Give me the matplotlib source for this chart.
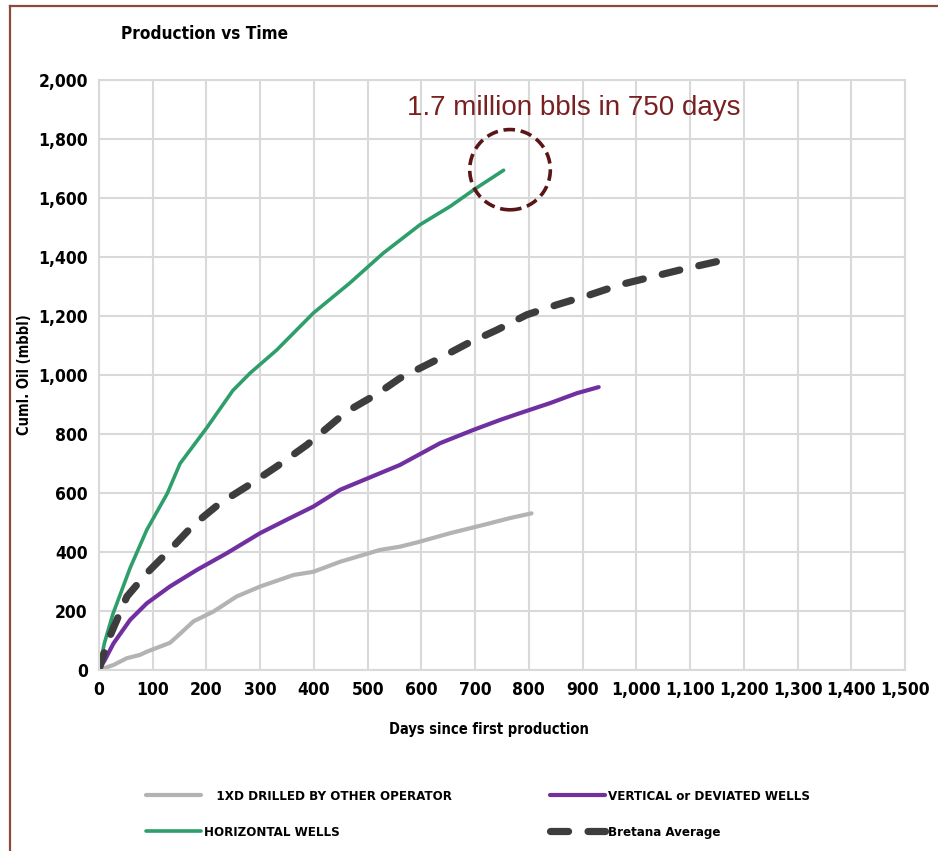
import matplotlib
matplotlib.use('Agg')
import matplotlib.pyplot as plt
from matplotlib.lines import Line2D
from matplotlib.patches import Ellipse
from matplotlib.ticker import FuncFormatter, MultipleLocator

plt.rcParams['font.family'] = ['DejaVu Sans']
plt.rcParams['font.stretch'] = 'condensed'

# Cumulative oil (mbbl) against days on production
days_1xd = [0, 27, 52, 76, 89, 132, 145, 176, 213, 256, 300, 362, 399, 449, 523, 560, 591, 654, 716, 765, 805]
oil_1xd = [0, 17, 40, 51, 62, 92, 113, 165, 198, 249, 283, 322, 333, 367, 407, 418, 432, 464, 492, 515, 531]

days_vert = [0, 11, 27, 58, 89, 132, 182, 238, 300, 349, 399, 449, 523, 560, 635, 697, 747, 784, 840, 889, 930]
oil_vert = [0, 34, 90, 170, 226, 283, 339, 396, 464, 509, 554, 611, 667, 695, 769, 814, 848, 871, 905, 938, 959]

days_horiz = [0, 10, 26, 58, 89, 127, 151, 201, 249, 281, 331, 399, 467, 529, 598, 654, 700, 753]
oil_horiz = [0, 90, 190, 346, 475, 598, 700, 822, 947, 1006, 1085, 1210, 1312, 1413, 1510, 1572, 1631, 1694]

days_avg = [0, 5, 20, 52, 89, 132, 176, 225, 275, 331, 387, 461, 517, 560, 629, 685, 741, 796, 852, 914, 970, 1032, 1088, 1166]
oil_avg = [0, 34, 113, 249, 328, 407, 492, 565, 622, 690, 763, 876, 935, 989, 1052, 1106, 1153, 1204, 1238, 1272, 1306, 1334, 1359, 1391]

callout_day = 765
callout_oil = 1696
callout_text = '1.7 million bbls in 750 days'

fig = plt.figure(figsize=(9.38, 8.51), dpi=100)
ax = fig.add_axes([0.1055, 0.2127, 0.8593, 0.6933])

ax.plot(days_1xd, oil_1xd, color='#B3B3B3', lw=3.0, solid_capstyle='round',
        label='   1XD DRILLED BY OTHER OPERATOR')
ax.plot(days_horiz, oil_horiz, color='#2E9E6B', lw=2.6, solid_capstyle='round',
        label='HORIZONTAL WELLS')
ax.plot(days_vert, oil_vert, color='#7030A0', lw=3.0, solid_capstyle='round',
        label='VERTICAL or DEVIATED WELLS')
ax.plot(days_avg, oil_avg, color='#3D3D3D', lw=5.2, dashes=(2.5, 2.7),
        dash_capstyle='round', label='Bretana Average')

# dashed ring around the end of the horizontal-well curve
ring = Ellipse((callout_day, callout_oil), width=150, height=272, fill=False,
               edgecolor='#5A1616', lw=2.6, linestyle=(0, (3.2, 1.6)), zorder=5)
ax.add_patch(ring)
ax.text(884, 1906, callout_text, color='#7A2020', fontsize=20, ha='center', va='center',
        family=['Liberation Sans', 'DejaVu Sans'], stretch='normal')

ax.set_xlim(0, 1500)
ax.set_ylim(0, 2000)
ax.xaxis.set_major_locator(MultipleLocator(100))
ax.yaxis.set_major_locator(MultipleLocator(200))
fmt = FuncFormatter(lambda v, p: f'{int(v):,}')
ax.xaxis.set_major_formatter(fmt)
ax.yaxis.set_major_formatter(fmt)
ax.tick_params(length=0, labelsize=12.5, pad=8)
for lab in ax.get_xticklabels() + ax.get_yticklabels():
    lab.set_fontweight('bold')
ax.grid(True, color='#D9D9D9', lw=1.5)
ax.set_axisbelow(True)
for sp in ax.spines.values():
    sp.set_color('#D9D9D9')
    sp.set_linewidth(1.5)

ax.set_xlabel('Days since first production', fontsize=10.5, fontweight='bold')
ax.set_ylabel('Cuml. Oil (mbbl)', fontsize=10.5, fontweight='bold')
ax.xaxis.set_label_coords(0.484, -0.088)
ax.yaxis.set_label_coords(-0.083, 0.5)
fig.text(0.129, 0.96, 'Production vs Time', fontsize=12.3, fontweight='bold', va='center')

handles, labels = ax.get_legend_handles_labels()
leg = fig.legend(handles, labels, ncol=2, loc='upper left', bbox_to_anchor=(0.143, 0.086),
                 frameon=False, fontsize=9.5, handlelength=4.2, handletextpad=0.2,
                 columnspacing=7.4, labelspacing=1.75)
for t in leg.get_texts():
    t.set_fontweight('bold')

# outer frame (top and left edges)
fig.add_artist(Line2D([0.0107, 1.0], [0.993, 0.993], color='#8C4A3A', lw=1.6))
fig.add_artist(Line2D([0.0107, 0.0107], [0.0, 0.993], color='#8C4A3A', lw=1.6))

fig.savefig('out.png', dpi=100)
